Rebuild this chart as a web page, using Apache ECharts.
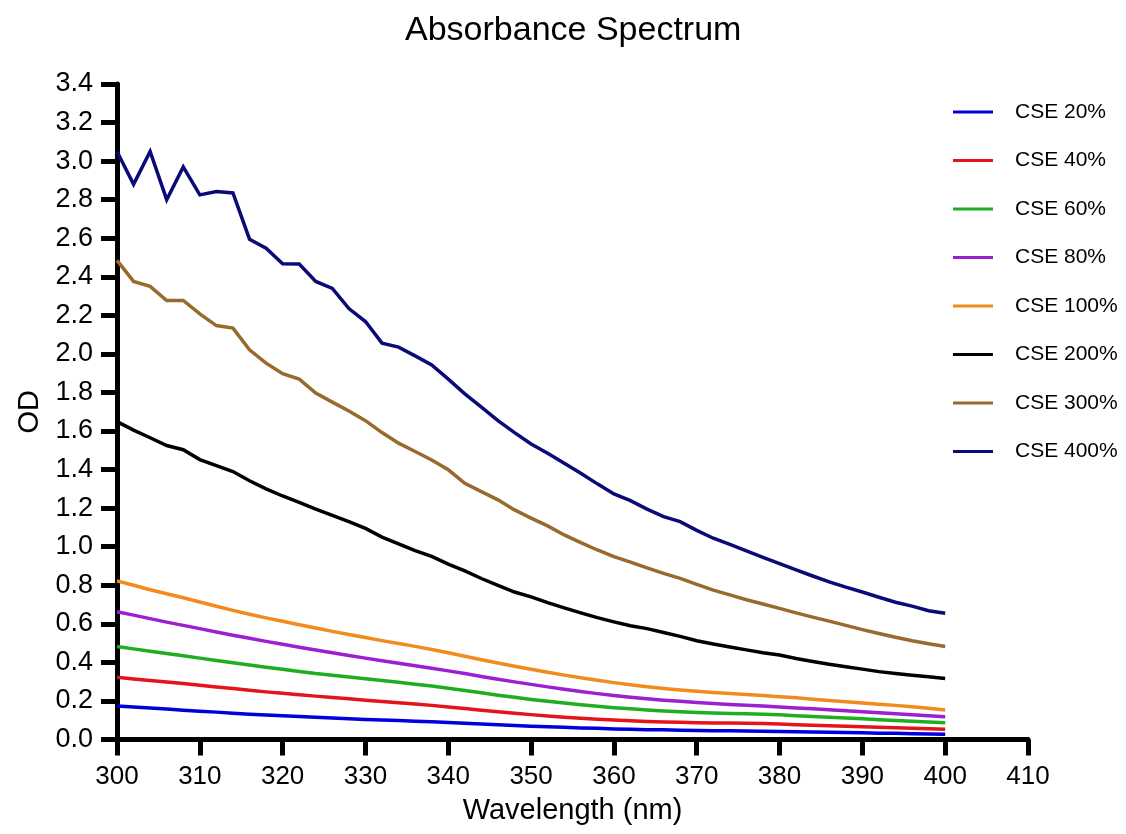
<!DOCTYPE html>
<html>
<head>
<meta charset="utf-8">
<title>Absorbance Spectrum</title>
<script src="https://cdn.jsdelivr.net/npm/echarts@6/dist/echarts.min.js"></script>
<style>
  html, body { margin: 0; padding: 0; background: #ffffff; }
  #chart { width: 1126px; height: 834px; }
</style>
</head>
<body>
<div id="chart"></div>
<script>
// Wavelengths sampled every 2 nm
const wavelengths = [
  300, 302, 304, 306, 308, 310, 312, 314, 316, 318,
  320, 322, 324, 326, 328, 330, 332, 334, 336, 338,
  340, 342, 344, 346, 348, 350, 352, 354, 356, 358,
  360, 362, 364, 366, 368, 370, 372, 374, 376, 378,
  380, 382, 384, 386, 388, 390, 392, 394, 396, 398, 400
];

// Optical density for each extract concentration
const cse20 = [
  0.174, 0.168, 0.163, 0.158, 0.152, 0.147, 0.142, 0.136, 0.131, 0.127,
  0.123, 0.119, 0.115, 0.111, 0.108, 0.104, 0.101, 0.098, 0.095, 0.092,
  0.088, 0.084, 0.080, 0.076, 0.072, 0.069, 0.066, 0.063, 0.060, 0.058,
  0.055, 0.053, 0.051, 0.050, 0.048, 0.047, 0.046, 0.045, 0.044, 0.043,
  0.042, 0.040, 0.039, 0.037, 0.036, 0.035, 0.033, 0.032, 0.030, 0.029, 0.027
];
const cse40 = [
  0.323, 0.314, 0.306, 0.298, 0.290, 0.281, 0.272, 0.264, 0.255, 0.247,
  0.240, 0.232, 0.225, 0.218, 0.211, 0.204, 0.197, 0.190, 0.184, 0.177,
  0.169, 0.161, 0.152, 0.144, 0.136, 0.129, 0.122, 0.116, 0.110, 0.105,
  0.101, 0.097, 0.094, 0.091, 0.089, 0.087, 0.086, 0.085, 0.084, 0.083,
  0.080, 0.077, 0.074, 0.071, 0.069, 0.066, 0.063, 0.061, 0.058, 0.056, 0.053
];
const cse60 = [
  0.482, 0.470, 0.458, 0.446, 0.434, 0.422, 0.410, 0.398, 0.386, 0.375,
  0.364, 0.353, 0.342, 0.333, 0.324, 0.315, 0.306, 0.297, 0.287, 0.277,
  0.266, 0.254, 0.242, 0.230, 0.219, 0.208, 0.198, 0.189, 0.180, 0.172,
  0.165, 0.159, 0.153, 0.148, 0.144, 0.140, 0.137, 0.135, 0.133, 0.131,
  0.128, 0.123, 0.119, 0.115, 0.111, 0.107, 0.103, 0.099, 0.095, 0.091, 0.087
];
const cse80 = [
  0.663, 0.645, 0.627, 0.609, 0.592, 0.575, 0.558, 0.541, 0.525, 0.509,
  0.494, 0.479, 0.464, 0.450, 0.436, 0.422, 0.409, 0.396, 0.383, 0.370,
  0.356, 0.342, 0.327, 0.313, 0.299, 0.286, 0.273, 0.261, 0.249, 0.238,
  0.228, 0.219, 0.211, 0.204, 0.198, 0.192, 0.187, 0.182, 0.178, 0.174,
  0.169, 0.164, 0.159, 0.154, 0.149, 0.144, 0.139, 0.134, 0.129, 0.123, 0.118
];
const cse100 = [
  0.823, 0.800, 0.777, 0.756, 0.735, 0.713, 0.691, 0.670, 0.650, 0.631,
  0.613, 0.595, 0.578, 0.561, 0.545, 0.529, 0.513, 0.498, 0.483, 0.467,
  0.450, 0.432, 0.414, 0.397, 0.380, 0.364, 0.349, 0.334, 0.320, 0.307,
  0.295, 0.284, 0.274, 0.265, 0.257, 0.250, 0.244, 0.238, 0.233, 0.228,
  0.222, 0.216, 0.209, 0.202, 0.196, 0.189, 0.183, 0.177, 0.170, 0.162, 0.153
];
const cse200 = [
  1.649, 1.605, 1.565, 1.525, 1.503, 1.452, 1.420, 1.390, 1.342, 1.300,
  1.263, 1.230, 1.195, 1.163, 1.130, 1.095, 1.050, 1.015, 0.980, 0.950,
  0.910, 0.875, 0.835, 0.800, 0.765, 0.740, 0.710, 0.683, 0.657, 0.632,
  0.610, 0.590, 0.575, 0.555, 0.535, 0.512, 0.495, 0.480, 0.465, 0.450,
  0.438, 0.420, 0.405, 0.390, 0.377, 0.365, 0.352, 0.342, 0.333, 0.325, 0.316
];
const cse300 = [
  2.485, 2.376, 2.350, 2.277, 2.277, 2.208, 2.147, 2.134, 2.021, 1.952,
  1.897, 1.869, 1.797, 1.750, 1.704, 1.654, 1.592, 1.537, 1.494, 1.450,
  1.399, 1.329, 1.286, 1.243, 1.191, 1.148, 1.108, 1.061, 1.021, 0.983,
  0.949, 0.920, 0.890, 0.862, 0.836, 0.805, 0.775, 0.750, 0.725, 0.703,
  0.680, 0.657, 0.635, 0.614, 0.592, 0.570, 0.550, 0.530, 0.512, 0.497, 0.482
];
const cse400 = [
  3.050, 2.880, 3.050, 2.800, 2.970, 2.825, 2.842, 2.835, 2.595, 2.548,
  2.468, 2.466, 2.376, 2.340, 2.235, 2.168, 2.056, 2.035, 1.990, 1.943,
  1.869, 1.793, 1.724, 1.654, 1.592, 1.533, 1.485, 1.433, 1.381, 1.326,
  1.274, 1.239, 1.195, 1.156, 1.130, 1.085, 1.044, 1.012, 0.978, 0.945,
  0.912, 0.880, 0.848, 0.818, 0.790, 0.765, 0.738, 0.712, 0.692, 0.668, 0.655
];

const seriesNames = ['CSE 20%', 'CSE 40%', 'CSE 60%', 'CSE 80%', 'CSE 100%', 'CSE 200%', 'CSE 300%', 'CSE 400%'];
const seriesValues = [cse20, cse40, cse60, cse80, cse100, cse200, cse300, cse400];
const seriesColors = ['#0000dc', '#e3141a', '#1fae22', '#9c20d2', '#f28b1e', '#000000', '#996a2e', '#0a0a78'];

const FONT = '"Liberation Sans", Arial, Helvetica, sans-serif';

const chart = echarts.init(document.getElementById('chart'), null, { renderer: 'canvas' });

chart.setOption({
  backgroundColor: '#ffffff',
  animation: false,
  title: {
    text: 'Absorbance Spectrum',
    left: 400,
    top: 9,
    textStyle: { fontFamily: FONT, fontSize: 34, fontWeight: 'normal', color: '#000' }
  },
  legend: {
    orient: 'vertical',
    left: 953,
    top: 100,
    padding: 0,
    itemGap: 24.5,
    itemWidth: 40,
    itemHeight: 3,
    icon: 'rect',
    textStyle: {
      fontFamily: FONT, fontSize: 21, color: '#000',
      lineHeight: 24, padding: [0, 0, 0, 17]
    },
    data: seriesNames
  },
  grid: { left: 117, right: 98, top: 84, bottom: 94.5, containLabel: false },
  xAxis: {
    type: 'value',
    min: 300,
    max: 410,
    interval: 10,
    name: 'Wavelength (nm)',
    nameLocation: 'middle',
    nameGap: 57,
    nameTextStyle: { fontFamily: FONT, fontSize: 29, color: '#000' },
    axisLine: { show: true, onZero: false, lineStyle: { color: '#000', width: 5 } },
    axisTick: { show: true, length: 16, lineStyle: { color: '#000', width: 5 } },
    axisLabel: { fontFamily: FONT, fontSize: 26, color: '#000', margin: 24 },
    splitLine: { show: false }
  },
  yAxis: {
    type: 'value',
    min: 0,
    max: 3.4,
    interval: 0.2,
    name: 'OD',
    nameLocation: 'middle',
    nameGap: 72,
    nameRotate: 90,
    nameTextStyle: { fontFamily: FONT, fontSize: 29, color: '#000' },
    axisLine: { show: true, lineStyle: { color: '#000', width: 5 } },
    axisTick: { show: true, length: 16, lineStyle: { color: '#000', width: 5 } },
    axisLabel: {
      fontFamily: FONT, fontSize: 27, color: '#000', margin: 24,
      formatter: function (v) { return v.toFixed(1); }
    },
    splitLine: { show: false }
  },
  series: seriesNames.map(function (name, i) {
    return {
      name: name,
      type: 'line',
      data: wavelengths.map(function (w, j) { return [w, seriesValues[i][j]]; }),
      showSymbol: false,
      symbol: 'none',
      color: seriesColors[i],
      lineStyle: { color: seriesColors[i], width: 3.5, join: 'miter' },
      z: 2 + i
    };
  })
});
</script>
</body>
</html>
